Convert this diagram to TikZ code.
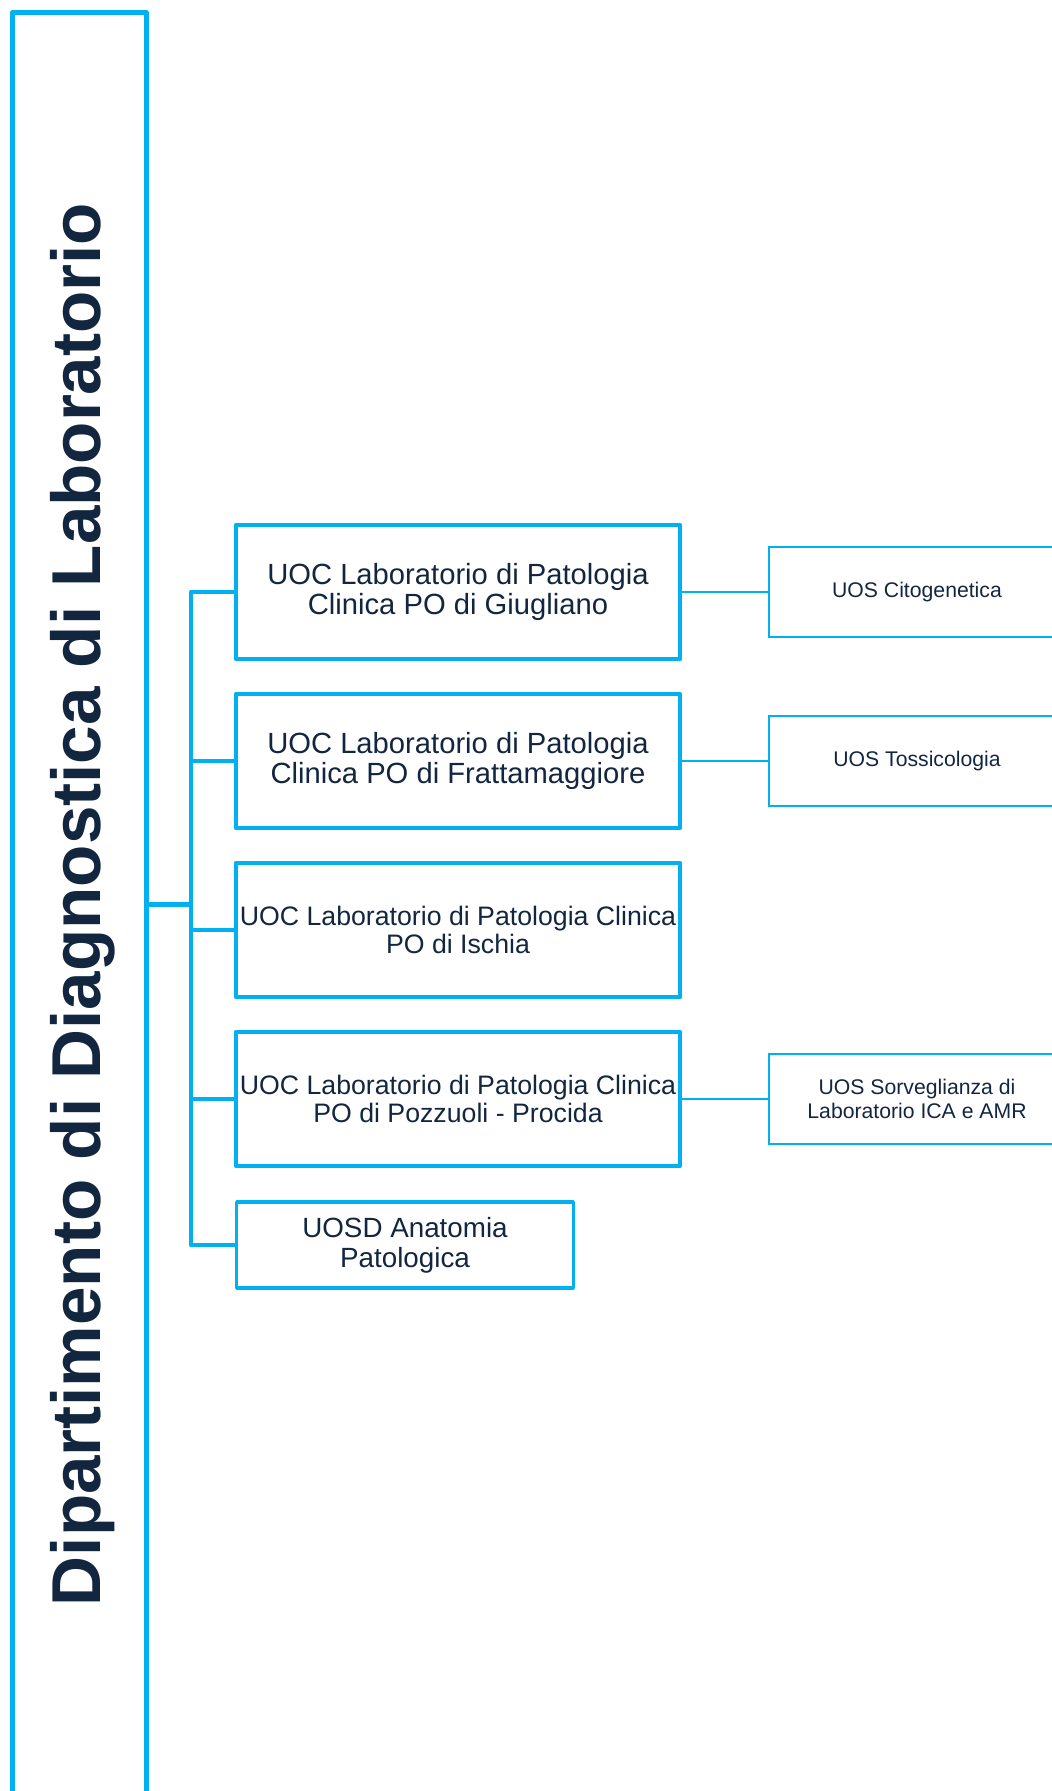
\documentclass[tikz,border=0pt]{standalone}
\usepackage{fontspec}
\setmainfont{Liberation Sans}
\usepackage{xcolor}
\usepackage{graphicx}
\usepackage{tikz}
\usetikzlibrary{shapes,arrows}
\definecolor{azzurro}{RGB}{0,176,240}
\definecolor{blu}{RGB}{19,38,64}
\tikzstyle{dipart} = [rectangle, draw=azzurro, line width=2.5pt, line join=round, text=blu, text centered,
    font=\fontsize{34.6}{40}\selectfont\bfseries, minimum width=66.75pt, minimum height=892pt, inner sep=0pt]
\tikzstyle{block} = [rectangle, draw=azzurro, line width=2.25pt, line join=round, text=blu, text centered, align=center,
    font=\fontsize{14.6}{14.85}\selectfont, minimum width=222pt, minimum height=67pt, inner sep=0pt]
\tikzstyle{blocksmall} = [block, font=\fontsize{13.35}{14.3}\selectfont]
\tikzstyle{uosd} = [block, line width=1.75pt, font=\fontsize{13.9}{15}\selectfont, minimum width=168.3pt,
minimum height=43pt]
\tikzstyle{uos} = [rectangle, draw=azzurro, line width=0.75pt, text=blu, text centered, align=center,
    font=\fontsize{10.6}{11.7}\selectfont, minimum width=148pt, minimum height=45pt, inner sep=0pt]
\tikzstyle{line} = [draw=azzurro, line width=2.25pt, line join=round]
\tikzstyle{thinline} = [draw=azzurro, line width=0.75pt]

\begin{document}
\begin{tikzpicture}[x=0.5pt,y=-0.5pt,node distance=84.5pt,auto]
    \path [use as bounding box] (0,0) rectangle (1052,1791);
    \clip (0,0) rectangle (1052,1791);

      \node [dipart] (dip) at (79.25,904.5) {\rotatebox{90}{\rule{0pt}{29pt}Dipartimento di Diagnostica di Laboratorio}};

      \node [block] (giu) at (458,592) {UOC Laboratorio di Patologia\\Clinica PO di Giugliano};
      \node [block, below of=giu] (fra) {UOC Laboratorio di Patologia\\Clinica PO di Frattamaggiore};
      \node [blocksmall, below of=fra] (isc) {UOC Laboratorio di Patologia Clinica\\PO di Ischia};
      \node [blocksmall, below of=isc] (poz) {UOC Laboratorio di Patologia Clinica\\PO di Pozzuoli - Procida};
      \node [uosd] (ana) at (405,1245) {UOSD Anatomia\\Patologica};

      \node [uos, right of=giu, node distance=229.5pt] (cit) {UOS Citogenetica};
      \node [uos, right of=fra, node distance=229.5pt] (tos) {UOS Tossicologia};
      \node [uos, right of=poz, node distance=229.5pt] (sor) {UOS Sorveglianza di\\Laboratorio ICA e AMR};

      \coordinate (nodo) at (191,904.5);

      \path [line] (dip.east) -- (nodo);
      \path [line] (giu.west) -| (nodo) |- (ana.west);
      \path [line] (fra.west) -- (fra.west -| nodo);
      \path [line] (isc.west) -- (isc.west -| nodo);
      \path [line] (poz.west) -- (poz.west -| nodo);

      \path [thinline] (giu.east) -- (cit.west);
      \path [thinline] (fra.east) -- (tos.west);
      \path [thinline] (poz.east) -- (sor.west);

    \end{tikzpicture}
\end{document}
